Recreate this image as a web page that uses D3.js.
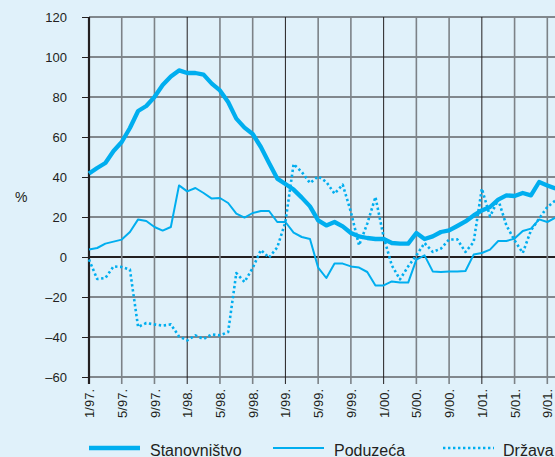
<!DOCTYPE html>
<html>
<head>
<meta charset="utf-8">
<script src="https://cdn.jsdelivr.net/npm/d3@7"></script>
<style>
  body { margin: 0; background: #e0f1fa; }
  svg { display: block; font-family: "Liberation Sans", Arial, sans-serif; }
</style>
</head>
<body>
<div id="chart"></div>
<script>
// monthly values, 1/97. .. 10/01.
const stanovnistvo = [41.7, 44.5, 47, 53, 57.5, 64.5, 73, 75.5, 80, 86, 90.3, 93.3, 92, 92, 91.2, 86.7, 83.3, 77.5, 69.2, 64.7,
  61.5, 55, 47, 39.2, 36.5, 33.7, 29.7, 25.3, 18.3, 15.8, 17.5, 15.3, 12, 10.3, 9.5, 9, 9, 7, 6.7, 6.7,
  12, 9, 10.3, 12.5, 13.3, 15.5, 17.8, 20.8, 23.3, 25, 28.7, 30.8, 30.5, 32, 30.8, 37.5, 35.8, 34.2];
const poduzeca = [3.8, 4.5, 6.7, 7.7, 8.7, 12.5, 18.8, 18, 15, 13.2, 15, 35.8, 32.8, 34.5, 32, 29.2, 29.5, 27, 21.7, 19.7,
  22, 23, 23, 17.5, 17.5, 12.2, 10, 9, -5.3, -10.5, -3.3, -3.3, -4.7, -5.3, -7.5, -14.2, -14.2, -12.2, -12.8, -12.8,
  -1.3, 0.8, -7.2, -7.5, -7.2, -7.2, -7, 1.2, 2, 3.7, 8, 8, 9.2, 13, 14.2, 18.8, 17.5, 19.7];
const drzava = [-1.3, -11, -10.5, -4.7, -5, -6.3, -35, -33, -33.7, -34.3, -33.7, -39.7, -41.7, -39.2, -41, -38.7, -39.2, -37.5, -8, -12.5,
  -5.5, 3.5, -0.3, 4.8, 17.5, 46.5, 42.5, 37, 40.3, 37.5, 31.7, 36.2, 22.5, 5.8, 16.7, 30, 10, -4.2, -11.2, -4.7,
  0.8, 7, 2.5, 4.2, 8.7, 8.8, 2.5, 7.5, 34.2, 20.3, 28.7, 15.8, 8.3, 2, 13.3, 19.2, 25, 28.3];

const xTickLabels = ["1/97.", "5/97.", "9/97.", "1/98.", "5/98.", "9/98.", "1/99.", "5/99.", "9/99.",
  "1/00.", "5/00.", "9/00.", "1/01.", "5/01.", "9/01."];
const yTicks = [-60, -40, -20, 0, 20, 40, 60, 80, 100, 120];
const seriesNames = ["Stanovništvo", "Poduzeća", "Država"];

const width = 555, height = 457;
const blue = "#00aeef", ink = "#231f20";

const svg = d3.select("#chart").append("svg")
  .attr("width", width)
  .attr("height", height);

svg.append("rect").attr("width", width).attr("height", height).attr("fill", "#e0f1fa");

const x = d3.scaleLinear().domain([0, 57]).range([89, 555.5]);
const y = d3.scaleLinear().domain([-60, 120]).range([377, 17]);
const xTickIdx = xTickLabels.map((d, i) => i * 4);

// horizontal grid
svg.append("g").selectAll("line")
  .data(yTicks)
  .join("line")
  .attr("x1", x(0)).attr("x2", width)
  .attr("y1", d => y(d)).attr("y2", d => y(d))
  .attr("stroke", ink)
  .attr("stroke-width", d => d === 0 ? 2.2 : 1);

// vertical grid (year starts darker)
svg.append("g").selectAll("line")
  .data(xTickIdx.slice(1))
  .join("line")
  .attr("x1", d => x(d)).attr("x2", d => x(d))
  .attr("y1", y(120)).attr("y2", y(-60) + 7)
  .attr("stroke", (d, i) => xTickLabels[i + 1].startsWith("1/") ? ink : "#7c8287")
  .attr("stroke-width", (d, i) => xTickLabels[i + 1].startsWith("1/") ? 1 : 1.6);

// y axis
const yAxis = svg.append("g")
  .attr("transform", `translate(${x(0)},0)`)
  .call(d3.axisLeft(y).tickValues(yTicks).tickSize(7).tickPadding(15)
    .tickFormat(d => d < 0 ? "\u2013" + Math.abs(d) : d));
yAxis.select(".domain").remove();
yAxis.selectAll("line").attr("stroke", ink);
yAxis.selectAll("text").attr("fill", ink).style("font-size", "13px");

svg.append("line")
  .attr("x1", x(0)).attr("x2", x(0))
  .attr("y1", y(120)).attr("y2", y(-60) + 7)
  .attr("stroke", ink).attr("stroke-width", 2.2);

// x axis
const xAxis = svg.append("g")
  .attr("transform", `translate(0,${y(-60)})`)
  .call(d3.axisBottom(x).tickValues(xTickIdx).tickSize(0)
    .tickFormat((d, i) => xTickLabels[i]));
xAxis.select(".domain").remove();
xAxis.selectAll("text")
  .attr("transform", "rotate(-90)")
  .attr("x", -12).attr("y", 0).attr("dy", "0.35em")
  .attr("fill", ink)
  .style("text-anchor", "end")
  .style("font-size", "13px");

svg.append("text")
  .attr("x", 15).attr("y", 202)
  .attr("fill", ink)
  .style("font-size", "14px")
  .text("%");

// series
const line = d3.line().x((d, i) => x(i)).y(d => y(d));
const styles = [
  { data: stanovnistvo, w: 4.3, dash: null },
  { data: poduzeca, w: 2, dash: null },
  { data: drzava, w: 2.6, dash: "2.4,2.6" }
];

svg.append("g").selectAll("path")
  .data(styles)
  .join("path")
  .attr("d", d => line(d.data))
  .attr("fill", "none")
  .attr("stroke", blue)
  .attr("stroke-width", d => d.w)
  .attr("stroke-linejoin", "round")
  .attr("stroke-dasharray", d => d.dash);

// legend
const legendX = [89, 273, 443];
const leg = svg.append("g").selectAll("g")
  .data(styles)
  .join("g")
  .attr("transform", (d, i) => `translate(${legendX[i]},448)`);
leg.append("line")
  .attr("x1", 0).attr("x2", 51)
  .attr("stroke", blue)
  .attr("stroke-width", d => d.w)
  .attr("stroke-dasharray", d => d.dash);
leg.append("text")
  .attr("x", (d, i) => i === 2 ? 60 : 61)
  .attr("y", 8)
  .attr("fill", ink)
  .style("font-size", "16px")
  .text((d, i) => seriesNames[i]);
</script>
</body>
</html>
